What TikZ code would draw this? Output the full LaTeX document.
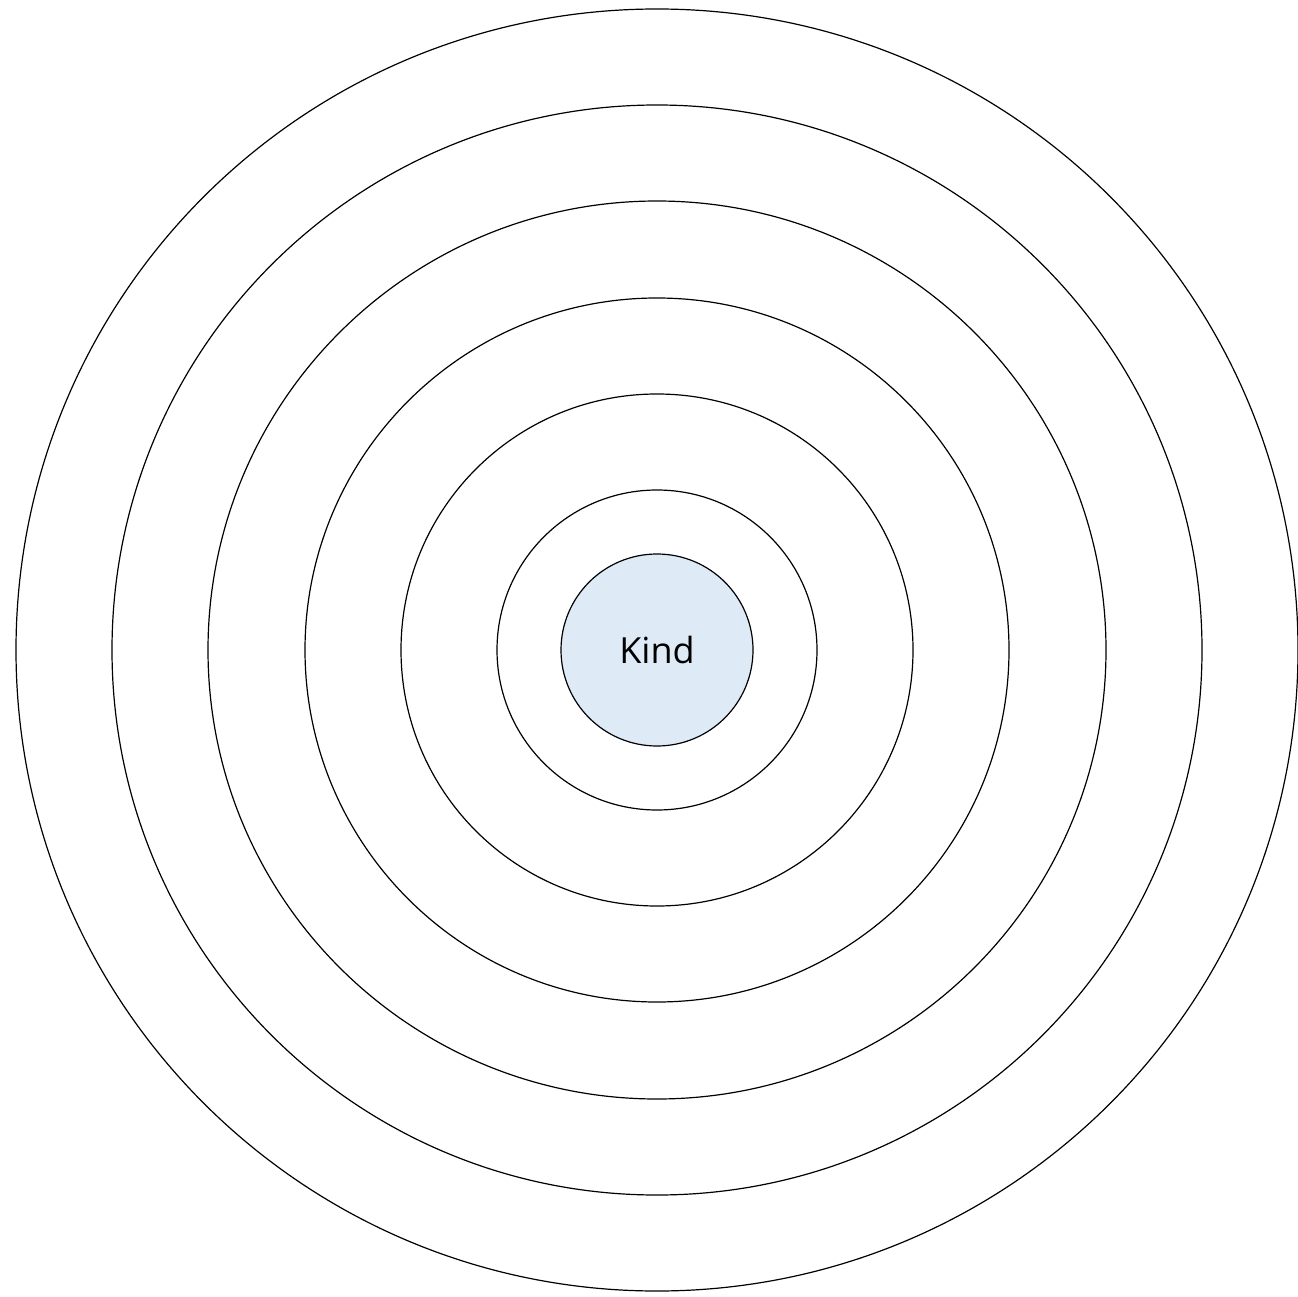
\documentclass[tikz,border=0pt]{standalone}
\usepackage{fontspec}
\setmainfont{Open Sans}
\definecolor{kindfill}{HTML}{DEEBF7}
\begin{document}
\begin{tikzpicture}[x=1pt,y=1pt,
  ring/.style={circle,draw=black,line width=1.2pt,inner sep=0pt},
  core/.style={circle,draw=black,line width=1.2pt,fill=kindfill,inner sep=0pt,font=\fontsize{36}{43}\selectfont}]
\useasboundingbox (0,0) rectangle (1298,-1297);
\coordinate (c) at (657,-650);
\node[ring,minimum size=1282pt] (r6) at (c) {};
\node[ring,minimum size=1090pt] (r5) at (c) {};
\node[ring,minimum size=898pt] (r4) at (c) {};
\node[ring,minimum size=704pt] (r3) at (c) {};
\node[ring,minimum size=512pt] (r2) at (c) {};
\node[ring,minimum size=320pt] (r1) at (c) {};
\node[core,minimum size=192pt] (kind) at (c) {Kind};
\end{tikzpicture}
\end{document}
